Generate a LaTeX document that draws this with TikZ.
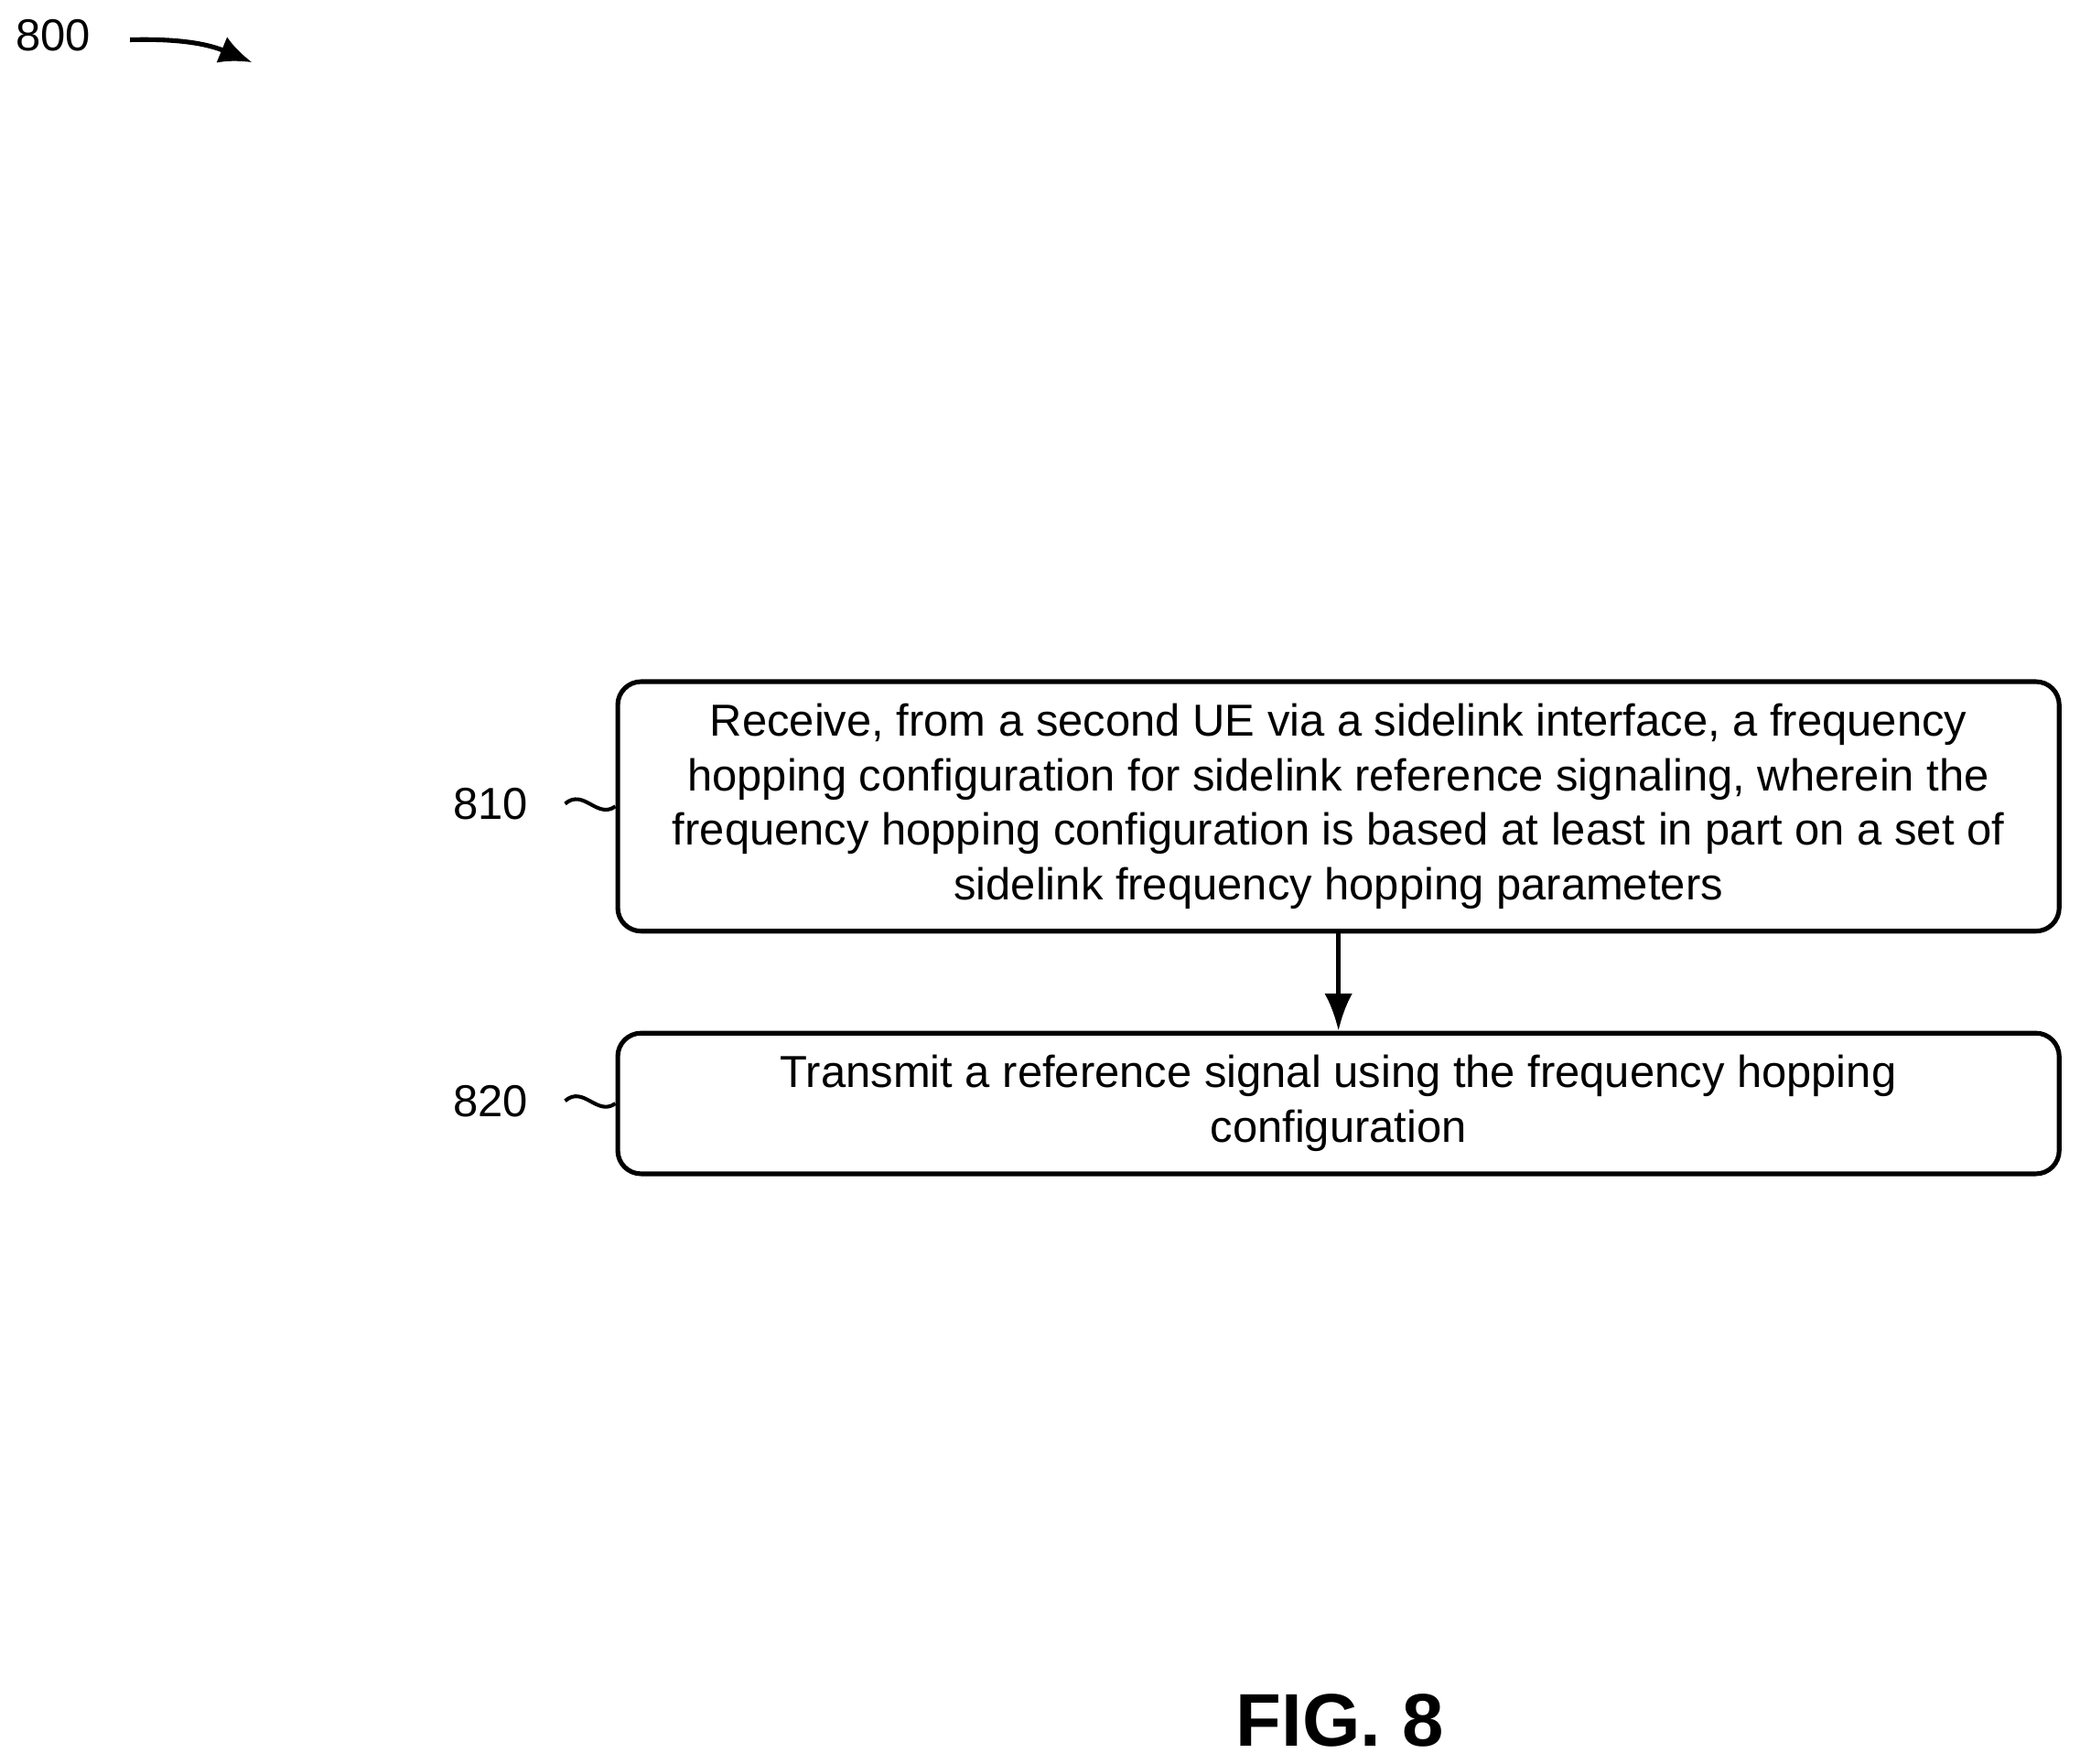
\documentclass[tikz,border=0pt]{standalone}
\usepackage{fontspec}
\setmainfont{Liberation Sans}
\usetikzlibrary{arrows.meta,positioning}
\tikzset{
    flowbox/.style={draw, line width=1pt, rounded corners=5pt, minimum width=10.86cm, align=center, font=\fontsize{9.6}{11.7}\selectfont},
    tag/.style={font=\fontsize{9.6}{11.7}\selectfont},
}
\begin{document}
\begin{tikzpicture}[x=0.01cm,y=-0.01cm]
\useasboundingbox (0,0) rectangle (1568,1330);
% figure number
\node[tag] (n800) at (40,27) {800};
\coordinate (a800) at (190,47);
\draw[-{Latex[length=7pt,width=6pt]}, line width=1pt] (98,30) to[bend left=12] (a800);

% steps
\node[flowbox, minimum height=1.88cm] (s810) at (1009,608) {Receive, from a second UE via a sidelink interface, a frequency\\hopping configuration for sidelink reference signaling, wherein the\\frequency hopping configuration is based at least in part on a set of\\sidelink frequency hopping parameters};
\node[flowbox, minimum height=1.06cm] (s820) at (1009,832) {Transmit a reference signal using the frequency hopping\\configuration};
\draw[-{Latex[length=8pt,width=6pt]}, line width=1pt] (s810) -- (s820);

% labels
\node[tag] (l810) at (370,606) {810};
\node[tag] (l820) at (370,830) {820};
\draw[line width=0.8pt] (426,606) .. controls (440,594) and (450,618) .. (s810.west);
\draw[line width=0.8pt] (426,830) .. controls (440,818) and (450,842) .. (s820.west);

\node[font=\bfseries\fontsize{16}{19}\selectfont] (fig) at (1010,1297) {FIG. 8};
\end{tikzpicture}
\end{document}
